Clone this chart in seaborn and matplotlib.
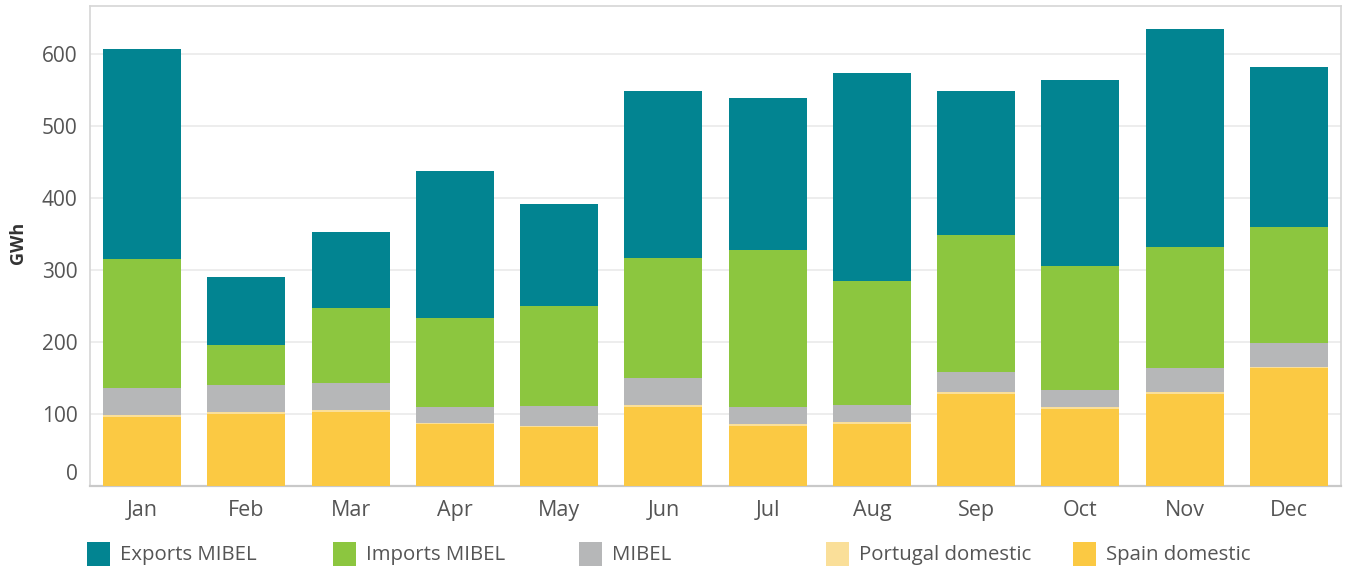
import numpy as np
import pandas as pd
import matplotlib
matplotlib.use("Agg")
import matplotlib.pyplot as plt
import matplotlib.transforms as mtransforms
from matplotlib.patches import Rectangle
import seaborn as sns

# Monthly electricity volumes (GWh) by flow type
months = ["Jan", "Feb", "Mar", "Apr", "May", "Jun", "Jul", "Aug", "Sep", "Oct", "Nov", "Dec"]
spain_domestic = [96, 100, 103, 86, 82, 110, 83, 86, 128, 107, 128, 164]
portugal_domestic = [2.5, 3, 3, 2, 1.5, 3, 3, 3, 3, 3, 3, 1.5]
mibel = [37.5, 37, 37, 22, 28, 37.5, 24, 23.5, 27.5, 23, 33.5, 33]
imports_mibel = [179, 56, 105, 123, 139, 166, 218, 172.5, 191, 172.5, 168, 161.5]
exports_mibel = [293, 94, 105.5, 204.5, 142, 232, 211, 289, 200, 258.5, 303, 223]
y_ticks = [0, 100, 200, 300, 400, 500, 600]

series_names = ["Exports MIBEL", "Imports MIBEL", "MIBEL", "Portugal domestic", "Spain domestic"]
series_colors = ["#028491", "#8CC63F", "#B6B7B8", "#FADF99", "#FBC943"]

df = pd.DataFrame({
    "month": months,
    "Spain domestic": spain_domestic,
    "Portugal domestic": portugal_domestic,
    "MIBEL": mibel,
    "Imports MIBEL": imports_mibel,
    "Exports MIBEL": exports_mibel,
})

W, H = 1346, 569
sns.set_theme(style="white")
plt.rcParams["font.family"] = ["Open Sans", "DejaVu Sans"]

fig = plt.figure(figsize=(W / 100, H / 100), dpi=100)
ax = fig.add_axes([90 / W, (H - 486) / H, (1341 - 90) / W, (486 - 5.5) / H])

# Stacked bars: draw cumulative totals from the top series down, each overlaying the previous
stack_order = ["Spain domestic", "Portugal domestic", "MIBEL", "Imports MIBEL", "Exports MIBEL"]
cum = df[stack_order].cumsum(axis=1)
color_map = dict(zip(series_names, series_colors))
for name in reversed(stack_order):
    sns.barplot(x=df["month"], y=cum[name], color=color_map[name], saturation=1,
                width=0.75, ax=ax, zorder=3, linewidth=0)

ax.set_xlim(-0.5, 11.5)
ax.set_ylim(0, 668)
ax.set_yticks(y_ticks)
ax.set_yticklabels([str(t) for t in y_ticks])
ax.grid(axis="y", color="#EDEDED", linewidth=1.4, zorder=0)
ax.grid(axis="x", visible=False)
ax.set_axisbelow(True)

for side in ["left", "top", "right"]:
    ax.spines[side].set_color("#D6D6D6")
    ax.spines[side].set_linewidth(1.2)
ax.spines["bottom"].set_color("#C9C9C9")
ax.spines["bottom"].set_linewidth(1.6)

ax.tick_params(axis="y", length=0, pad=9, labelsize=15, labelcolor="#555555")
ax.tick_params(axis="x", which="major", length=0, pad=10, labelsize=15.5, labelcolor="#555555")
ax.set_xticks(np.arange(-0.5, 12, 1), minor=True)
ax.tick_params(axis="x", which="minor", length=9, width=1, color="#DDDDDD")

ax.set_xlabel("")
ax.set_ylabel("GWh", fontsize=13, fontweight="bold", color="#333333")
ax.yaxis.set_label_coords(-(90 - 27) / (1341 - 90), 0.507)

# Lift the zero label above the baseline
zero_label = ax.get_yticklabels()[0]
zero_label.set_transform(zero_label.get_transform() +
                         mtransforms.ScaledTranslation(0, 14 / 100, fig.dpi_scale_trans))

# Legend row along the bottom
legend_x = [87, 333, 579, 826, 1073]
for x, name, c in zip(legend_x, series_names, series_colors):
    fig.add_artist(Rectangle((x / W, (H - 566) / H), 23 / W, 24 / H,
                             transform=fig.transFigure, color=c, linewidth=0))
    fig.text((x + 33) / W, (H - 555) / H, name, fontsize=14.7, color="#555555",
             va="center", ha="left")

fig.savefig("out.png", dpi=100)
